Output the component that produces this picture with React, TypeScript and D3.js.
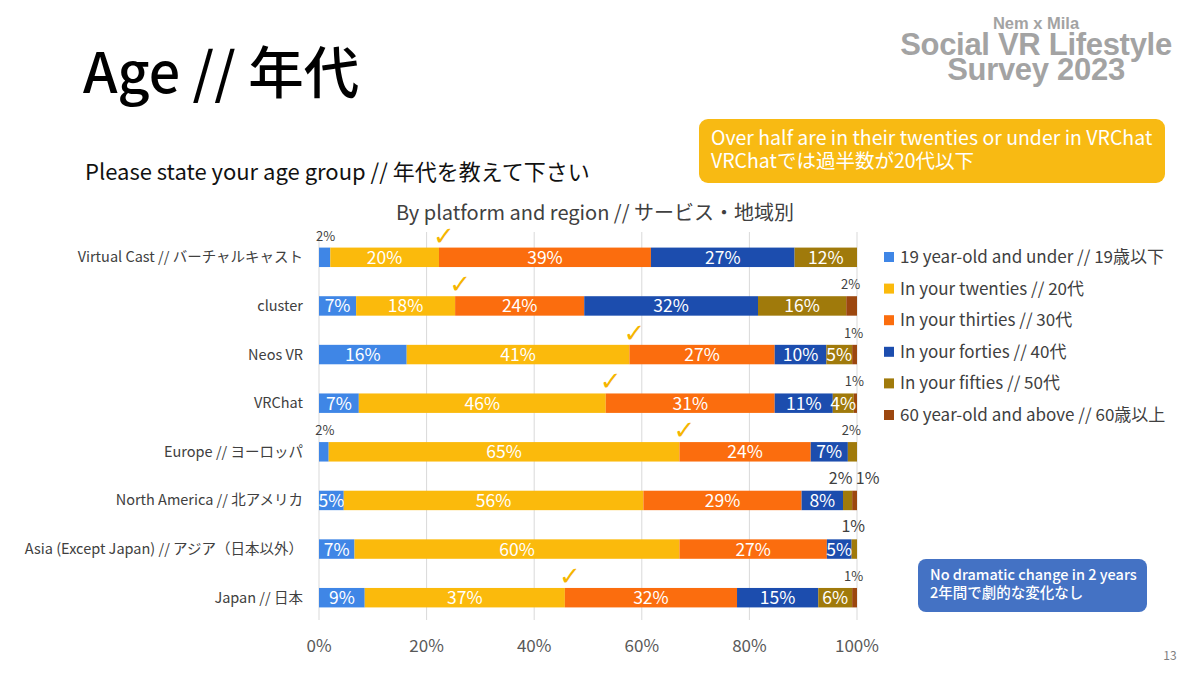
import * as d3 from 'd3';

// rows, top to bottom
const categories = [
  'Virtual Cast // バーチャルキャスト',
  'cluster',
  'Neos VR',
  'VRChat',
  'Europe // ヨーロッパ',
  'North America // 北アメリカ',
  'Asia (Except Japan) // アジア（日本以外）',
  'Japan // 日本',
];

const seriesNames = [
  '19 year-old and under // 19歳以下',
  'In your twenties // 20代',
  'In your thirties // 30代',
  'In your forties // 40代',
  'In your fifties // 50代',
  '60 year-old and above // 60歳以上',
];

// percent of respondents, per row
const under19 = [2.1, 6.9, 16.3, 7.4, 1.8, 4.6, 6.6, 8.5];
const twenties = [20.2, 18.4, 41.4, 45.9, 65.2, 55.7, 60.4, 37.2];
const thirties = [39.4, 24.0, 27.0, 31.4, 24.4, 29.4, 27.4, 32.0];
const forties = [26.7, 32.3, 9.6, 10.8, 6.9, 7.7, 4.6, 15.1];
const fifties = [11.6, 16.4, 4.8, 3.9, 1.7, 1.7, 1.0, 6.3];
const sixtyPlus = [0, 2.0, 0.9, 0.6, 0, 0.9, 0, 0.9];

// rows that get a tick mark at the "twenties or under" boundary
const checked = [true, true, true, true, true, false, false, true];

const xTicks = [0, 20, 40, 60, 80, 100];

const colors = ['#3F86E6', '#FBBA0C', '#FB6D0E', '#1C4DAE', '#A07A0B', '#9C470F'];

const FONT = "'Noto Sans CJK JP', 'Noto Sans', sans-serif";

export default function App() {
  const W = 1200, H = 675;
  const x = d3.scaleLinear().domain([0, 100]).range([319, 857]);
  const y = d3.scaleBand<number>()
    .domain(d3.range(categories.length))
    .range([233, 622])
    .paddingInner(0.6)
    .paddingOuter(0.3);

  const series = [under19, twenties, thirties, forties, fifties, sixtyPlus];
  const table = categories.map((_, i) => {
    const row: Record<string, number> = { i };
    series.forEach((s, k) => (row['s' + k] = s[i]));
    return row;
  });
  const keys = series.map((_, k) => 's' + k);
  const stacked = d3.stack<Record<string, number>>().keys(keys)(table);

  const bh = y.bandwidth();

  // small segments get their label above the bar
  const outside: { x: number; y: number; t: string; big: boolean }[] = [];
  categories.forEach((_, i) => {
    const row = stacked.map(l => l[i]).filter(d => d[1] - d[0] > 0 && d[1] - d[0] < 3);
    const right = row.filter(d => d[0] > 50);
    const left = row.filter(d => d[0] <= 50);
    const yy = (y(i) ?? 0) - 7;
    const big = i === 5 || i === 6;
    left.forEach(d => outside.push({ x: x((d[0] + d[1]) / 2) + 1, y: yy, t: Math.round(d[1] - d[0]) + '%', big }));
    right.forEach((d, j) => {
      let cx = x((d[0] + d[1]) / 2) - 1;
      if (right.length > 1) cx += j === 0 ? -6 : 14;
      outside.push({ x: cx, y: yy, t: Math.round(d[1] - d[0]) + '%', big });
    });
  });

  return (
    <div style={{ position: 'fixed', left: 0, top: 0, width: W, height: H, background: '#fff' }}>
      <svg width={W} height={H} style={{ display: 'block' }} fontFamily={FONT}>
        <rect width={W} height={H} fill="#fff" />

        {/* titles */}
        <text x={83} y={93} fontSize={55.5} fill="#000" fontWeight={500}>Age // 年代</text>
        <text x={85} y={180} fontSize={22} fill="#111">Please state your age group // 年代を教えて下さい</text>
        <text x={595} y={220} fontSize={20} fill="#404040" textAnchor="middle">By platform and region // サービス・地域別</text>

        {/* logo */}
        <g fontFamily="'Liberation Sans', Arial, sans-serif" fontWeight={700} fill="#A3A3A3" textAnchor="middle">
          <text x={1036} y={29} fontSize={16.5}>Nem x Mila</text>
          <text x={1036} y={55} fontSize={31} letterSpacing={-0.3}>Social VR Lifestyle</text>
          <text x={1036} y={80} fontSize={31} letterSpacing={-0.3}>Survey 2023</text>
        </g>

        {/* callout */}
        <rect x={699} y={119} width={466} height={64} rx={9} fill="#F8BA13" />
        <text x={711} y={145} fontSize={19.5} fill="#fff">Over half are in their twenties or under in VRChat</text>
        <text x={711} y={168} fontSize={19.5} fill="#fff">VRChatでは過半数が20代以下</text>

        {/* grid */}
        {xTicks.map(t => (
          <line key={t} x1={x(t)} x2={x(t)} y1={232} y2={620} stroke="#D9D9D9" strokeWidth={1} />
        ))}

        {/* bars */}
        {stacked.map((layer, k) => (
          <g key={k} fill={colors[k]}>
            {layer.map((d, i) => (
              <rect key={i} x={x(d[0])} y={y(i)} width={Math.max(0, x(d[1]) - x(d[0]))} height={bh} />
            ))}
          </g>
        ))}

        {/* inside labels */}
        {stacked.map((layer, k) => (
          <g key={'l' + k} fill="#fff" fontSize={17.5} textAnchor="middle">
            {layer.map((d, i) =>
              d[1] - d[0] >= 3 ? (
                <text key={i} x={x((d[0] + d[1]) / 2)} y={(y(i) ?? 0) + bh / 2 + 6.5}>
                  {Math.round(d[1] - d[0])}%
                </text>
              ) : null
            )}
          </g>
        ))}

        {/* outside labels */}
        {outside.map((o, j) => (
          <text key={j} x={o.x} y={o.y} fontSize={o.big ? 16 : 13} fill="#404040" textAnchor="middle">{o.t}</text>
        ))}

        {/* tick marks */}
        {categories.map((_, i) =>
          checked[i] ? (
            <text key={i} x={x(stacked[1][i][1]) + 5} y={(y(i) ?? 0) - 3} fontSize={26}
              fill="#F5B500" textAnchor="middle" fontFamily="'DejaVu Sans', sans-serif">✓</text>
          ) : null
        )}

        {/* category labels */}
        {categories.map((c, i) => (
          <text key={c} x={303} y={(y(i) ?? 0) + bh / 2 + 5} fontSize={14.5} fill="#404040" textAnchor="end">{c}</text>
        ))}

        {/* x axis labels */}
        {xTicks.map(t => (
          <text key={t} x={x(t)} y={652} fontSize={17} fill="#595959" textAnchor="middle">{t}%</text>
        ))}

        {/* legend */}
        {seriesNames.map((s, k) => (
          <g key={s} transform={`translate(884, ${257 + k * 31.6})`}>
            <rect x={0} y={-5} width={10} height={10} fill={colors[k]} />
            <text x={16} y={6} fontSize={17} fill="#404040">{s}</text>
          </g>
        ))}

        {/* note */}
        <rect x={918} y={559} width={229} height={53} rx={8} fill="#4472C4" />
        <text x={930} y={580} fontSize={14.5} fill="#fff" fontWeight={500}>No dramatic change in 2 years</text>
        <text x={930} y={598} fontSize={14.5} fill="#fff" fontWeight={500}>2年間で劇的な変化なし</text>

        <text x={1170} y={660} fontSize={12} fill="#7F7F7F" textAnchor="middle">13</text>
      </svg>
    </div>
  );
}
